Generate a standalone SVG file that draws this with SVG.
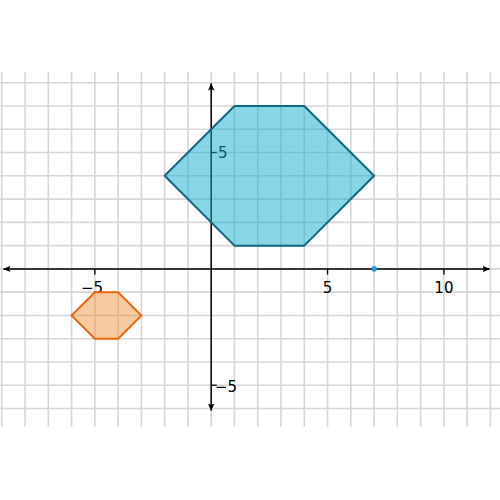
<svg xmlns="http://www.w3.org/2000/svg" width="500" height="500" viewBox="0 0 500 500">
  <defs>
    <style>
      .grid line { stroke: #d6d6d6; stroke-width: 1.6; }
      .axis { stroke: #000; stroke-width: 1.5; fill: none; }
      .tick { stroke: #000; stroke-width: 1.3; }
      .lbl { font-family: "DejaVu Sans", Verdana, sans-serif; font-size: 15px; fill: #000; }
      .xl { text-anchor: middle; }
      .blue { fill: #11accd; fill-opacity: 0.5; stroke: #0b6a82; stroke-width: 2; stroke-linejoin: round; }
      .orange { fill: #f08c2e; fill-opacity: 0.45; stroke: #ea6a10; stroke-width: 2; stroke-linejoin: round; }
    </style>
    <marker id="arr" viewBox="0 0 8 8" refX="7" refY="4" markerWidth="8" markerHeight="8" markerUnits="userSpaceOnUse" orient="auto">
      <path d="M0,0.8 L7.5,4 L0,7.2 L1.5,4 Z" fill="#000"/>
    </marker>
  </defs>
  <rect width="500" height="500" fill="#fff"/>
  <g id="grid" class="grid">
    <line x1="1.77" y1="72" x2="1.77" y2="427"/>
    <line x1="25.04" y1="72" x2="25.04" y2="427"/>
    <line x1="48.31" y1="72" x2="48.31" y2="427"/>
    <line x1="71.58" y1="72" x2="71.58" y2="427"/>
    <line x1="94.85" y1="72" x2="94.85" y2="427"/>
    <line x1="118.12" y1="72" x2="118.12" y2="427"/>
    <line x1="141.39" y1="72" x2="141.39" y2="427"/>
    <line x1="164.66" y1="72" x2="164.66" y2="427"/>
    <line x1="187.93" y1="72" x2="187.93" y2="427"/>
    <line x1="211.2" y1="72" x2="211.2" y2="427"/>
    <line x1="234.47" y1="72" x2="234.47" y2="427"/>
    <line x1="257.74" y1="72" x2="257.74" y2="427"/>
    <line x1="281.01" y1="72" x2="281.01" y2="427"/>
    <line x1="304.28" y1="72" x2="304.28" y2="427"/>
    <line x1="327.55" y1="72" x2="327.55" y2="427"/>
    <line x1="350.82" y1="72" x2="350.82" y2="427"/>
    <line x1="374.09" y1="72" x2="374.09" y2="427"/>
    <line x1="397.36" y1="72" x2="397.36" y2="427"/>
    <line x1="420.63" y1="72" x2="420.63" y2="427"/>
    <line x1="443.9" y1="72" x2="443.9" y2="427"/>
    <line x1="467.17" y1="72" x2="467.17" y2="427"/>
    <line x1="490.44" y1="72" x2="490.44" y2="427"/>
    <line x1="0" y1="82.74" x2="500" y2="82.74"/>
    <line x1="0" y1="106.01" x2="500" y2="106.01"/>
    <line x1="0" y1="129.28" x2="500" y2="129.28"/>
    <line x1="0" y1="152.55" x2="500" y2="152.55"/>
    <line x1="0" y1="175.82" x2="500" y2="175.82"/>
    <line x1="0" y1="199.09" x2="500" y2="199.09"/>
    <line x1="0" y1="222.36" x2="500" y2="222.36"/>
    <line x1="0" y1="245.63" x2="500" y2="245.63"/>
    <line x1="0" y1="268.9" x2="500" y2="268.9"/>
    <line x1="0" y1="292.17" x2="500" y2="292.17"/>
    <line x1="0" y1="315.44" x2="500" y2="315.44"/>
    <line x1="0" y1="338.71" x2="500" y2="338.71"/>
    <line x1="0" y1="361.98" x2="500" y2="361.98"/>
    <line x1="0" y1="385.25" x2="500" y2="385.25"/>
    <line x1="0" y1="408.52" x2="500" y2="408.52"/>
  </g>
  <g id="axes">
    <line class="axis" x1="211.2" y1="268.9" x2="489.5" y2="268.9" marker-end="url(#arr)"/>
    <line class="axis" x1="211.2" y1="268.9" x2="3.5" y2="268.9" marker-end="url(#arr)"/>
    <line class="axis" x1="211.2" y1="268.9" x2="211.2" y2="83.5" marker-end="url(#arr)"/>
    <line class="axis" x1="211.2" y1="268.9" x2="211.2" y2="410.5" marker-end="url(#arr)"/>
    <line class="tick" x1="94.85" y1="268.9" x2="94.85" y2="274.5"/>
    <line class="tick" x1="327.55" y1="268.9" x2="327.55" y2="274.5"/>
    <line class="tick" x1="443.9" y1="268.9" x2="443.9" y2="274.5"/>
    <line class="tick" x1="211.2" y1="152.55" x2="216.8" y2="152.55"/>
    <line class="tick" x1="211.2" y1="385.25" x2="216.8" y2="385.25"/>
    <text class="lbl xl" x="92" y="292.5">−5</text>
    <text class="lbl xl" x="327.55" y="292.5">5</text>
    <text class="lbl xl" x="443.9" y="292.5">10</text>
    <text class="lbl" x="218" y="158.3">5</text>
    <text class="lbl" x="215" y="392.3">−5</text>
  </g>
  <g id="hexagon-blue">
    <polygon class="blue" points="234.47,106.01 304.28,106.01 374.09,175.82 304.28,245.63 234.47,245.63 164.66,175.82"/>
  </g>
  <g id="hexagon-orange">
    <polygon class="orange" points="94.85,292.17 118.12,292.17 141.39,315.44 118.12,338.71 94.85,338.71 71.58,315.44"/>
  </g>
  <g id="point">
    <circle cx="374.09" cy="268.9" r="2.4" fill="#2aa7dc" stroke="#1b86b8" stroke-width="1"/>
  </g>
  <g id="connectors"/>
</svg>
